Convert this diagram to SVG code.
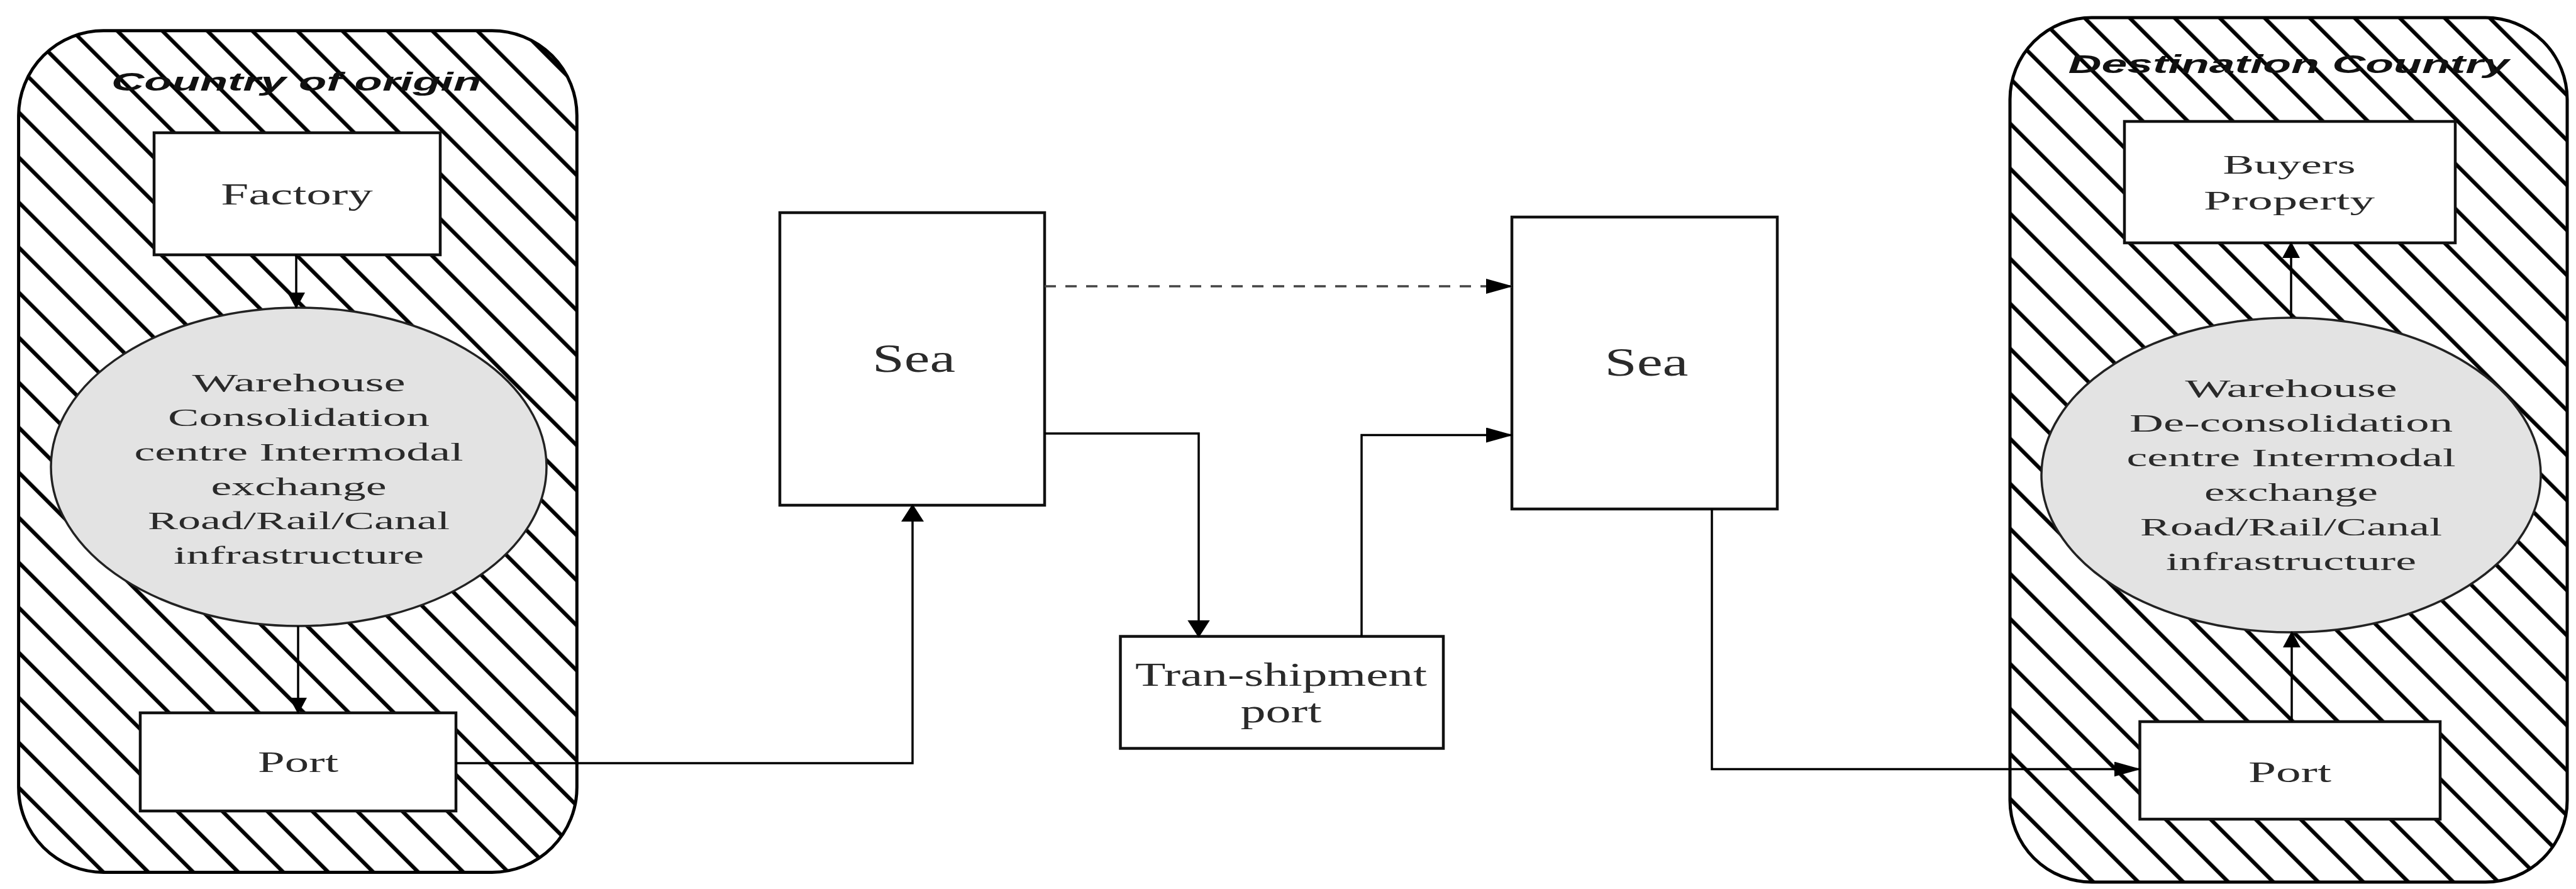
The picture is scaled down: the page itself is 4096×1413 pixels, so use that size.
<svg xmlns="http://www.w3.org/2000/svg" width="4096" height="1413" viewBox="0 0 4096 1413">
  <defs>
    <!-- diagonal hatching for the two country regions -->
    <pattern id="hatch" patternUnits="userSpaceOnUse" width="60" height="50.6" patternTransform="rotate(45)">
      <rect width="60" height="50.6" fill="#ffffff"/>
      <rect y="0.8" width="60" height="6.2" fill="#000000"/>
    </pattern>
    <!-- arrowheads -->
    <marker id="arrowH" markerUnits="userSpaceOnUse" markerWidth="43" markerHeight="24" refX="41" refY="12" orient="auto">
      <path d="M0,0 L43,12 L0,24 z" fill="#000"/>
    </marker>
    <marker id="arrowV" markerUnits="userSpaceOnUse" markerWidth="28" markerHeight="36" refX="26" refY="18" orient="auto">
      <path d="M0,0 L28,18 L0,36 z" fill="#000"/>
    </marker>
    <marker id="arrowS" markerUnits="userSpaceOnUse" markerWidth="26" markerHeight="28" refX="24" refY="14" orient="auto">
      <path d="M0,0 L26,14 L0,28 z" fill="#000"/>
    </marker>
  </defs>
  <style>
    .region { fill: url(#hatch); stroke: #000; stroke-width: 5; }
    .box { fill: #ffffff; stroke: #111; stroke-width: 4.5; }
    .hub { fill: #e3e3e3; stroke: #222; stroke-width: 3.5; }
    .lbl { font-family: "Liberation Serif", "Times New Roman", serif; fill: #2a2a2a; text-anchor: middle; }
    .title { font-family: "Liberation Sans", Arial, sans-serif; font-weight: bold; font-style: italic; fill: #111; text-anchor: middle; font-size: 40px; }
    .link { fill: none; stroke: #000; stroke-width: 3.5; }
    .dash { stroke: #444; stroke-dasharray: 18 15; }
  </style>

  <rect width="4096" height="1413" fill="#ffffff"/>

  <!-- origin country region -->
  <g id="country-of-origin">
    <rect class="region" x="29.6" y="48.8" width="887.7" height="1337.7" rx="135" ry="135"/>
    <text class="title" x="471" y="144" textLength="588" lengthAdjust="spacingAndGlyphs">Country of origin</text>
  </g>

  <!-- destination country region -->
  <g id="destination-country">
    <rect class="region" x="3196" y="28" width="886" height="1374" rx="130" ry="130"/>
    <text class="title" x="3639" y="116" textLength="701" lengthAdjust="spacingAndGlyphs">Destination Country</text>
  </g>

  <g id="factory">
    <rect class="box" x="245" y="211" width="455" height="194"/>
    <text class="lbl" x="472" y="325" font-size="49" textLength="241.5" lengthAdjust="spacingAndGlyphs">Factory</text>
  </g>

  <g id="origin-warehouse">
    <ellipse class="hub" cx="475" cy="742" rx="394" ry="253"/>
    <g class="lbl" font-size="41">
      <text x="475" y="622" textLength="339" lengthAdjust="spacingAndGlyphs">Warehouse</text>
      <text x="475" y="677" textLength="416" lengthAdjust="spacingAndGlyphs">Consolidation</text>
      <text x="475" y="732" textLength="523" lengthAdjust="spacingAndGlyphs">centre Intermodal</text>
      <text x="475" y="787" textLength="279" lengthAdjust="spacingAndGlyphs">exchange</text>
      <text x="475" y="841" textLength="480" lengthAdjust="spacingAndGlyphs">Road/Rail/Canal</text>
      <text x="475" y="896" textLength="398" lengthAdjust="spacingAndGlyphs">infrastructure</text>
    </g>
  </g>

  <g id="origin-port">
    <rect class="box" x="223" y="1133" width="502" height="156"/>
    <text class="lbl" x="474" y="1227" font-size="46" textLength="128" lengthAdjust="spacingAndGlyphs">Port</text>
  </g>

  <g id="sea-1">
    <rect class="box" x="1240" y="338" width="421" height="465"/>
    <text class="lbl" x="1453" y="591" font-size="63" textLength="132" lengthAdjust="spacingAndGlyphs">Sea</text>
  </g>

  <g id="transhipment-port">
    <rect class="box" x="1781.5" y="1011.5" width="513.5" height="178"/>
    <text class="lbl" x="2037" y="1090" font-size="52" textLength="464" lengthAdjust="spacingAndGlyphs">Tran-shipment</text>
    <text class="lbl" x="2037" y="1148" font-size="52" textLength="129" lengthAdjust="spacingAndGlyphs">port</text>
  </g>

  <g id="sea-2">
    <rect class="box" x="2404" y="345" width="422" height="464"/>
    <text class="lbl" x="2618" y="597" font-size="63" textLength="133" lengthAdjust="spacingAndGlyphs">Sea</text>
  </g>

  <g id="buyers-property">
    <rect class="box" x="3378" y="193" width="526" height="193"/>
    <text class="lbl" x="3640" y="275.5" font-size="42" textLength="211" lengthAdjust="spacingAndGlyphs">Buyers</text>
    <text class="lbl" x="3640" y="333" font-size="42" textLength="272" lengthAdjust="spacingAndGlyphs">Property</text>
  </g>

  <g id="destination-warehouse">
    <ellipse class="hub" cx="3643" cy="755" rx="397" ry="250"/>
    <g class="lbl" font-size="41">
      <text x="3643" y="631" textLength="337" lengthAdjust="spacingAndGlyphs">Warehouse</text>
      <text x="3643" y="686" textLength="514" lengthAdjust="spacingAndGlyphs">De-consolidation</text>
      <text x="3643" y="741" textLength="523" lengthAdjust="spacingAndGlyphs">centre Intermodal</text>
      <text x="3643" y="796" textLength="276" lengthAdjust="spacingAndGlyphs">exchange</text>
      <text x="3643" y="851" textLength="480" lengthAdjust="spacingAndGlyphs">Road/Rail/Canal</text>
      <text x="3643" y="906" textLength="398" lengthAdjust="spacingAndGlyphs">infrastructure</text>
    </g>
  </g>

  <g id="destination-port">
    <rect class="box" x="3402.5" y="1147" width="477.5" height="155"/>
    <text class="lbl" x="3641" y="1243" font-size="46" textLength="132" lengthAdjust="spacingAndGlyphs">Port</text>
  </g>

  <!-- flow connectors -->
  <g id="connectors">
    <path class="link" d="M471,405 L471,489" marker-end="url(#arrowS)"/>
    <path class="link" d="M474,995 L474,1133" marker-end="url(#arrowS)"/>
    <path class="link" d="M725,1213 L1451,1213 L1451,803" marker-end="url(#arrowV)"/>
    <path class="link dash" d="M1661,455 L2404,455" marker-end="url(#arrowH)"/>
    <path class="link" d="M1661,689 L1906,689 L1906,1011.5" marker-end="url(#arrowV)"/>
    <path class="link" d="M2165,1011.5 L2165,691.5 L2404,691.5" marker-end="url(#arrowH)"/>
    <path class="link" d="M2722,809 L2722,1222.5 L3402.5,1222.5" marker-end="url(#arrowH)"/>
    <path class="link" d="M3644,1147 L3644,1005" marker-end="url(#arrowS)"/>
    <path class="link" d="M3643,505 L3643,386" marker-end="url(#arrowS)"/>
  </g>
</svg>
